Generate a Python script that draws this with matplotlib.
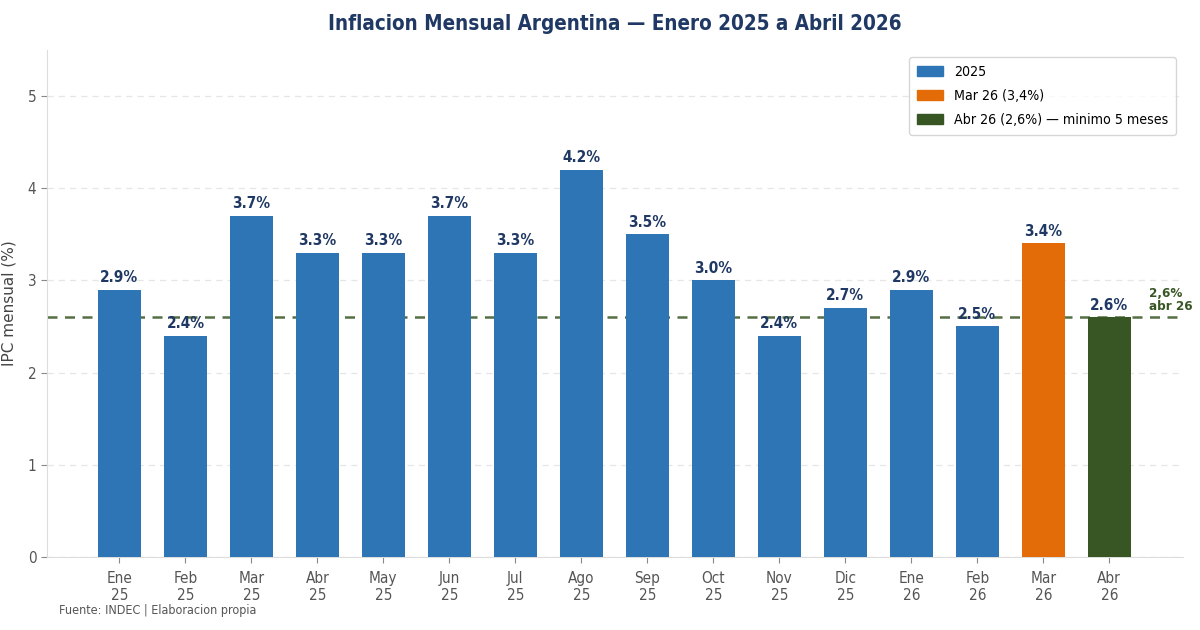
import matplotlib
matplotlib.use("Agg")
import matplotlib.pyplot as plt
from matplotlib.patches import Patch
from matplotlib.font_manager import FontProperties

plt.rcParams['font.family'] = ['DejaVu Sans']

months = ["Ene\n25", "Feb\n25", "Mar\n25", "Abr\n25", "May\n25", "Jun\n25", "Jul\n25", "Ago\n25",
          "Sep\n25", "Oct\n25", "Nov\n25", "Dic\n25", "Ene\n26", "Feb\n26", "Mar\n26", "Abr\n26"]
values = [2.9, 2.4, 3.7, 3.3, 3.3, 3.7, 3.3, 4.2, 3.5, 3.0, 2.4, 2.7, 2.9, 2.5, 3.4, 2.6]
ref_value = 2.6
legend_labels = ["2025", "Mar 26 (3,4%)", "Abr 26 (2,6%) \u2014 minimo 5 meses"]

BLUE = "#2E75B6"
ORANGE = "#E36C09"
GREEN = "#375623"
NAVY = "#1F3864"
ST = "condensed"

colors = [BLUE] * 14 + [ORANGE, GREEN]

fig = plt.figure(figsize=(12, 6.3), dpi=100)
ax = fig.add_axes([0.039, 0.116, 0.947, 0.805])

x = list(range(len(values)))
ax.bar(x, values, width=0.65, color=colors, zorder=3)
ax.axhline(ref_value, color=GREEN, linestyle=(0, (4, 3)), linewidth=1.8, alpha=0.85, zorder=2)

for xi, v in zip(x, values):
    ax.text(xi, v + 0.05, f"{v:.1f}%", ha="center", va="bottom", fontsize=11,
            fontweight="bold", color=NAVY, fontstretch=ST, zorder=4)

ax.text(15.6, ref_value + 0.04, "2,6%\nabr 26", ha="left", va="bottom", fontsize=9.6,
        fontweight="bold", color=GREEN, fontstretch=ST, linespacing=1.05, clip_on=False)

ax.set_xlim(-1.1, 16.12)
ax.set_ylim(0, 5.5)
ax.set_xticks(x)
ax.set_xticklabels(months, fontstretch=ST, fontsize=11, color="#555555", linespacing=1.2)
ax.set_yticks([0, 1, 2, 3, 4, 5])
ax.set_yticklabels(["0", "1", "2", "3", "4", "5"], fontstretch=ST, fontsize=11, color="#555555")
ax.tick_params(axis="both", colors="#888888", labelcolor="#555555", length=4)
ax.tick_params(axis="x", pad=6)
ax.set_ylabel("IPC mensual (%)", fontsize=11, color="#444444", labelpad=8)
ax.grid(axis="y", linestyle=(0, (5, 4)), color="#e6e6e6", linewidth=0.9, zorder=0)
ax.set_axisbelow(True)
for s in ["top", "right"]:
    ax.spines[s].set_visible(False)
for s in ["left", "bottom"]:
    ax.spines[s].set_color("#dddddd")

ax.set_title("Inflacion Mensual Argentina \u2014 Enero 2025 a Abril 2026", fontsize=14.8,
             fontweight="bold", color=NAVY, fontstretch=ST, pad=14)

handles = [Patch(color=BLUE), Patch(color=ORANGE), Patch(color=GREEN)]
leg = ax.legend(handles, legend_labels, loc="upper right",
                prop=FontProperties(family="DejaVu Sans", stretch=ST, size=10.2),
                frameon=True, fancybox=True, borderpad=0.55, handlelength=1.8,
                handletextpad=0.8, labelspacing=0.72)
leg.get_frame().set_edgecolor("#cccccc")

fig.text(0.049, 0.025, "Fuente: INDEC | Elaboracion propia", fontsize=9.0, color="#555555",
         fontstretch=ST)

fig.savefig("out.png", dpi=100)
